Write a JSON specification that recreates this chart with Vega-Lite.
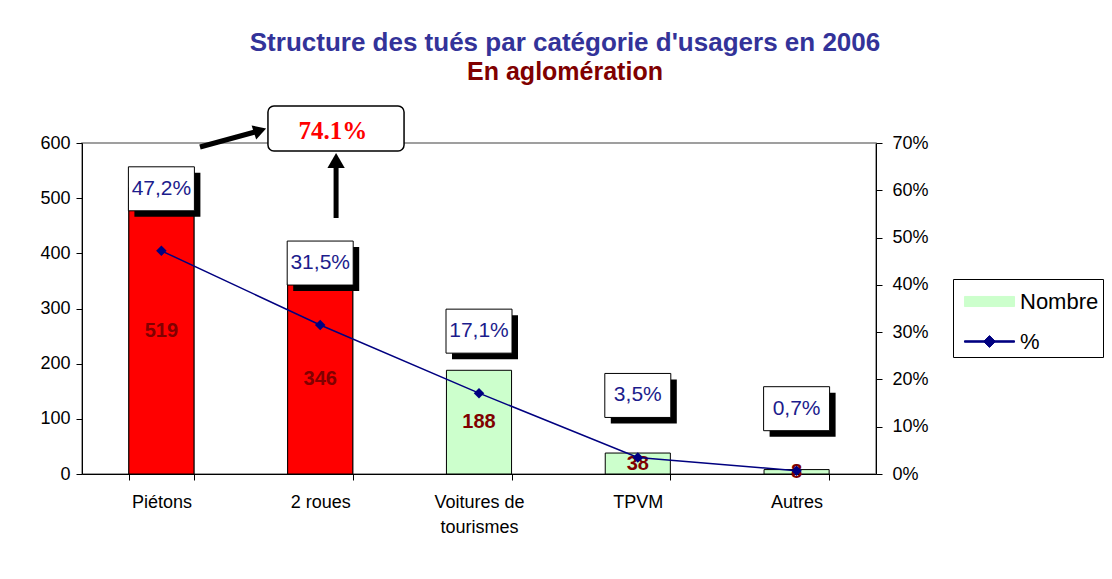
{
  "$schema": "https://vega.github.io/schema/vega-lite/v6.json",
  "width": 794,
  "height": 331,
  "autosize": {"type": "none"},
  "padding": {"left": 82, "top": 143, "right": 236, "bottom": 105},
  "background": "white",
  "config": {
    "locale": {"number": {"decimal": ",", "thousands": " ", "grouping": [3], "currency": ["", " €"]}},
    "view": {"stroke": "#808080", "strokeWidth": 1.5},
    "font": "Liberation Sans",
    "axis": {"grid": false, "domainColor": "black", "tickColor": "black", "labelColor": "black", "labelFont": "Liberation Sans", "labelFontSize": 18, "domainWidth": 1, "tickWidth": 1, "tickSize": 6, "title": null}
  },
  "title": {
    "text": "Structure des tués par catégorie d'usagers en 2006",
    "subtitle": "En aglomération",
    "anchor": "middle",
    "frame": "group",
    "dx": 86,
    "offset": 20,
    "font": "Liberation Sans",
    "fontSize": 26,
    "fontWeight": "bold",
    "color": "#333399",
    "subtitleFont": "Liberation Sans",
    "subtitleFontSize": 25,
    "subtitleFontWeight": "bold",
    "subtitleColor": "#800000",
    "subtitlePadding": 4
  },
  "datasets": {
    "usagers": [
      {"categorie": "Piétons", "nombre": 519, "pourcentage": 0.472},
      {"categorie": "2 roues", "nombre": 346, "pourcentage": 0.315},
      {"categorie": "Voitures de tourismes", "nombre": 188, "pourcentage": 0.171},
      {"categorie": "TPVM", "nombre": 38, "pourcentage": 0.035},
      {"categorie": "Autres", "nombre": 8, "pourcentage": 0.007}
    ],
    "series": [{"serie": "Nombre"}, {"serie": "%"}],
    "note": [{"texte": "74.1%"}]
  },
  "resolve": {"scale": {"x": "independent", "y": "independent"}, "axis": {"x": "independent", "y": "independent"}},
  "layer": [
    {
      "data": {"name": "series"},
      "mark": {"type": "point", "filled": true, "opacity": 0, "size": 1296},
      "encoding": {
        "color": {
          "field": "serie", "type": "nominal",
          "scale": {"domain": ["Nombre", "%"], "range": ["#CCFFCC", "#000080"]},
          "legend": {
            "orient": "none", "legendX": 871, "legendY": 136, "title": null,
            "padding": 4, "strokeColor": "black", "fillColor": "white",
            "symbolSize": 1296, "symbolOffset": 14, "labelOffset": 12, "rowPadding": 10,
            "symbolStrokeColor": "black", "symbolStrokeWidth": 1, "symbolOpacity": 1,
            "labelFontSize": 22, "labelColor": "black", "labelFont": "Liberation Sans"
          }
        },
        "shape": {
          "field": "serie", "type": "nominal",
          "scale": {"domain": ["Nombre", "%"], "range": ["M-1.39,-0.28H1.39V0.28H-1.39Z", "M-1.39,-0.04H1.39V0.04H-1.39ZM0,-0.33L0.33,0L0,0.33L-0.33,0Z"]},
          "legend": {
            "orient": "none", "legendX": 871, "legendY": 136, "title": null,
            "padding": 4, "strokeColor": "black", "fillColor": "white",
            "symbolSize": 1296, "symbolOffset": 14, "labelOffset": 12, "rowPadding": 10,
            "symbolStrokeColor": "black", "symbolStrokeWidth": 1, "symbolOpacity": 1,
            "labelFontSize": 22, "labelColor": "black", "labelFont": "Liberation Sans"
          }
        }
      }
    },
    {
      "data": {"name": "usagers"},
      "encoding": {
        "x": {
          "field": "categorie", "type": "nominal", "sort": null,
          "scale": {"type": "band", "domain": ["Piétons", "2 roues", "Voitures de tourismes", "TPVM", "Autres"], "paddingInner": 0.59, "paddingOuter": 0.295},
          "axis": {"orient": "bottom", "tickBand": "extent", "labelAngle": 0, "labelPadding": 13, "labelLineHeight": 25, "labelFontSize": 18,
                   "labelExpr": "datum.value === 'Voitures de tourismes' ? ['Voitures de', 'tourismes'] : datum.value"}
        },
        "y": {
          "field": "nombre", "type": "quantitative",
          "scale": {"domain": [0, 600], "nice": false},
          "axis": {"orient": "left", "values": [0, 100, 200, 300, 400, 500, 600], "labelPadding": 6}
        }
      },
      "layer": [
        {
          "mark": {"type": "bar", "stroke": "black", "strokeWidth": 1, "opacity": 1},
          "encoding": {
            "color": {"datum": "Nombre", "type": "nominal", "legend": null}
          }
        },
        {
          "transform": [{"filter": "datum.categorie === 'Piétons' || datum.categorie === '2 roues'"}],
          "mark": {"type": "bar", "fill": "#FF0000", "stroke": "black", "strokeWidth": 1, "opacity": 1}
        },
        {
          "transform": [{"calculate": "datum.nombre / 2", "as": "milieu"}],
          "mark": {"type": "text", "font": "Liberation Sans", "fontSize": 20, "fontWeight": "bold", "color": "#800000", "baseline": "middle"},
          "encoding": {
            "y": {"field": "milieu", "type": "quantitative"},
            "text": {"field": "nombre", "type": "quantitative"}
          }
        }
      ]
    },
    {
      "data": {"name": "usagers"},
      "encoding": {
        "x": {
          "field": "categorie", "type": "nominal", "sort": null,
          "scale": {"type": "band", "domain": ["Piétons", "2 roues", "Voitures de tourismes", "TPVM", "Autres"], "paddingInner": 0.59, "paddingOuter": 0.295},
          "axis": null
        },
        "y": {
          "field": "pourcentage", "type": "quantitative",
          "scale": {"domain": [0, 0.7], "nice": false},
          "axis": {"orient": "right", "format": ".0%", "values": [0, 0.1, 0.2, 0.3, 0.4, 0.5, 0.6, 0.7], "labelPadding": 10}
        }
      },
      "layer": [
        {
          "mark": {"type": "line", "strokeWidth": 1.5},
          "encoding": {"color": {"datum": "%", "type": "nominal", "legend": null}}
        },
        {
          "mark": {"type": "point", "shape": "diamond", "filled": true, "size": 110, "opacity": 1},
          "encoding": {"color": {"datum": "%", "type": "nominal", "legend": null}}
        },
        {
          "mark": {"type": "point", "shape": "M-1.5,-1H1.5V1H-1.5Z", "size": 1936, "filled": true, "fill": "black", "strokeWidth": 0, "opacity": 1, "xOffset": 6, "yOffset": -56}
        },
        {
          "mark": {"type": "point", "shape": "M-1.5,-1H1.5V1H-1.5Z", "size": 1936, "filled": true, "fill": "white", "stroke": "black", "strokeWidth": 1, "opacity": 1, "yOffset": -62}
        },
        {
          "mark": {"type": "text", "font": "Liberation Sans", "fontSize": 21, "color": "#1c1c8c", "baseline": "middle", "yOffset": -62},
          "encoding": {"text": {"field": "pourcentage", "type": "quantitative", "format": ".1%"}}
        }
      ]
    },
    {
      "data": {"name": "note"},
      "layer": [
        {
          "mark": {"type": "rect", "fill": "white", "stroke": "black", "strokeWidth": 1.5, "cornerRadius": 6},
          "encoding": {
            "x": {"datum": 1.171, "type": "quantitative", "scale": {"domain": [0, 5], "nice": false, "zero": false}, "axis": null},
            "x2": {"datum": 2.028},
            "y": {"datum": 585.5, "type": "quantitative", "scale": {"domain": [0, 600], "nice": false}, "axis": null},
            "y2": {"datum": 667}
          }
        },
        {
          "mark": {"type": "text", "font": "Liberation Serif", "fontSize": 25, "fontWeight": "bold", "color": "#FF0000", "baseline": "middle"},
          "encoding": {
            "x": {"datum": 1.58, "type": "quantitative"},
            "y": {"datum": 622, "type": "quantitative"},
            "text": {"field": "texte", "type": "nominal"}
          }
        },
        {
          "mark": {"type": "rule", "strokeWidth": 5, "color": "black"},
          "encoding": {
            "x": {"datum": 0.743, "type": "quantitative"},
            "x2": {"datum": 1.089},
            "y": {"datum": 592.7, "type": "quantitative"},
            "y2": {"datum": 620}
          }
        },
        {
          "mark": {"type": "point", "shape": "triangle-right", "angle": -18, "size": 220, "filled": true, "color": "black", "opacity": 1},
          "encoding": {
            "x": {"datum": 1.121, "type": "quantitative"},
            "y": {"datum": 622.7, "type": "quantitative"}
          }
        },
        {
          "mark": {"type": "rule", "strokeWidth": 5, "color": "black"},
          "encoding": {
            "x": {"datum": 1.6, "type": "quantitative"},
            "y": {"datum": 464, "type": "quantitative"},
            "y2": {"datum": 554.7}
          }
        },
        {
          "mark": {"type": "point", "shape": "triangle-up", "size": 300, "filled": true, "color": "black", "opacity": 1},
          "encoding": {
            "x": {"datum": 1.6, "type": "quantitative"},
            "y": {"datum": 568.3, "type": "quantitative"}
          }
        }
      ]
    }
  ]
}
